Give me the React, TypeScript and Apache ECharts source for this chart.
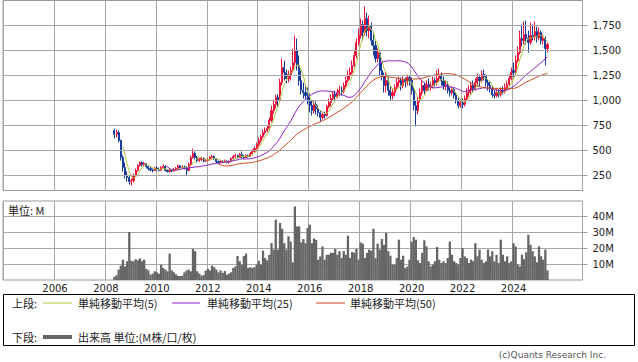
import React, { useEffect, useRef } from "react";
import * as echarts from "echarts";

const AXIS_START_YEAR = 2004;
const AXIS_MONTH_COUNT = 273; // Jan 2004 – Sep 2026
const DATA_START_YEAR = 2008;
const DATA_START_MONTH = 5;

const PRICE_TICKS = [250, 500, 750, 1000, 1250, 1500, 1750];
const VOLUME_TICKS = [10, 20, 30, 40];
const MA_PERIODS = [5, 25, 50];
const MA_NAMES = ["単純移動平均(5)", "単純移動平均(25)", "単純移動平均(50)"];
const MA_COLORS = ["#b4c83c", "#8c1ec8", "#d2461e"];
const UP_COLOR = "#f0143c";
const DOWN_COLOR = "#183c9c";
const VOLUME_COLOR = "#666666";

// monthly [open, close, low, high] from 2008/05
const ohlc: number[][] = [
  [700, 660, 620, 720], [660, 680, 630, 710], [680, 600, 580, 700], [600, 430, 400, 610],
  [430, 330, 290, 450], [330, 250, 220, 380], [250, 230, 190, 290], [230, 190, 160, 250],
  // 2009
  [190, 200, 150, 220], [200, 250, 180, 270], [250, 300, 240, 320], [300, 350, 290, 360],
  [350, 380, 340, 390], [380, 360, 340, 390], [360, 370, 335, 385], [370, 340, 320, 375],
  [340, 320, 300, 350], [320, 305, 290, 340], [305, 300, 280, 320], [300, 325, 295, 335],
  // 2010
  [325, 310, 300, 345], [310, 300, 290, 330], [300, 330, 295, 345], [330, 340, 320, 360],
  [340, 300, 290, 350], [300, 290, 280, 315], [290, 305, 280, 320], [305, 295, 285, 315],
  [295, 310, 290, 325], [310, 320, 300, 335], [320, 345, 310, 360], [345, 330, 320, 355],
  // 2011
  [330, 335, 320, 350], [335, 320, 310, 350], [320, 300, 245, 340], [300, 360, 295, 380],
  [360, 430, 350, 450], [430, 470, 420, 520], [470, 430, 410, 490], [430, 400, 380, 445],
  [400, 410, 385, 430], [410, 420, 395, 440], [420, 395, 380, 430], [395, 400, 385, 415],
  // 2012
  [400, 410, 390, 425], [410, 430, 400, 445], [430, 440, 420, 460], [440, 420, 405, 450],
  [420, 390, 375, 425], [390, 380, 370, 400], [380, 390, 370, 405], [390, 385, 375, 400],
  [385, 395, 375, 410], [395, 380, 370, 400], [380, 390, 370, 400], [390, 420, 385, 430],
  // 2013
  [420, 440, 415, 455], [440, 450, 425, 465], [450, 430, 420, 460], [430, 460, 425, 475],
  [460, 440, 425, 490], [440, 430, 415, 455], [430, 450, 425, 460], [450, 440, 430, 460],
  [440, 470, 435, 485], [470, 490, 460, 510], [490, 520, 480, 540], [520, 560, 510, 580],
  // 2014
  [560, 600, 540, 630], [600, 640, 580, 660], [640, 680, 620, 710], [680, 700, 660, 730],
  [700, 720, 680, 750], [720, 800, 700, 830], [800, 900, 780, 950], [900, 960, 870, 1010],
  [960, 1030, 920, 1060], [1030, 1000, 930, 1060], [1000, 1180, 990, 1220], [1180, 1330, 1150, 1420],
  // 2015
  [1330, 1280, 1200, 1400], [1280, 1220, 1170, 1310], [1220, 1260, 1180, 1300], [1260, 1300, 1200, 1340],
  [1300, 1380, 1280, 1520], [1380, 1500, 1350, 1650], [1500, 1350, 1300, 1620], [1350, 1200, 1150, 1450],
  [1200, 1100, 1060, 1300], [1100, 1080, 1020, 1180], [1080, 1050, 1010, 1140], [1050, 1000, 960, 1130],
  // 2016
  [1000, 950, 880, 1070], [950, 900, 850, 1000], [900, 960, 870, 1000], [960, 920, 860, 990],
  [920, 880, 840, 950], [880, 830, 785, 900], [830, 860, 810, 880], [860, 850, 820, 890],
  [850, 940, 840, 960], [940, 980, 920, 1020], [980, 1020, 940, 1060], [1020, 1060, 1000, 1090],
  // 2017
  [1060, 1040, 1010, 1100], [1040, 1080, 1020, 1120], [1080, 1100, 1040, 1150], [1100, 1090, 1050, 1140],
  [1090, 1150, 1070, 1180], [1150, 1200, 1130, 1240], [1200, 1250, 1180, 1300], [1250, 1280, 1210, 1330],
  [1280, 1350, 1260, 1400], [1350, 1450, 1330, 1500], [1450, 1580, 1420, 1620], [1580, 1650, 1550, 1720],
  // 2018
  [1650, 1760, 1620, 1820], [1760, 1680, 1600, 1800], [1680, 1820, 1650, 1940], [1820, 1700, 1640, 1880],
  [1700, 1750, 1620, 1850], [1750, 1600, 1550, 1780], [1600, 1550, 1450, 1680], [1550, 1420, 1380, 1600],
  [1420, 1480, 1380, 1520], [1480, 1300, 1250, 1500], [1300, 1250, 1200, 1380], [1250, 1150, 1080, 1280],
  // 2019
  [1150, 1200, 1080, 1280], [1200, 1100, 1050, 1230], [1100, 1050, 1000, 1140], [1050, 1080, 1010, 1120],
  [1080, 1130, 1040, 1160], [1130, 1180, 1100, 1220], [1180, 1200, 1140, 1240], [1200, 1150, 1100, 1230],
  [1150, 1200, 1120, 1240], [1200, 1180, 1130, 1230], [1180, 1230, 1150, 1260], [1230, 1200, 1150, 1250],
  // 2020
  [1200, 1100, 1060, 1230], [1100, 950, 900, 1130], [950, 900, 740, 1000], [900, 1000, 860, 1040],
  [1000, 1080, 980, 1120], [1080, 1150, 1050, 1200], [1150, 1100, 1060, 1180], [1100, 1160, 1090, 1200],
  [1160, 1130, 1100, 1220], [1130, 1150, 1100, 1190], [1150, 1200, 1120, 1240], [1200, 1180, 1140, 1230],
  // 2021
  [1180, 1220, 1150, 1300], [1220, 1250, 1180, 1320], [1250, 1200, 1150, 1280], [1200, 1150, 1110, 1240],
  [1150, 1160, 1100, 1200], [1160, 1100, 1070, 1190], [1100, 1080, 1040, 1130], [1080, 1110, 1050, 1140],
  [1110, 1050, 1020, 1130], [1050, 1000, 970, 1080], [1000, 950, 920, 1030], [950, 980, 930, 1010],
  // 2022
  [980, 960, 920, 1020], [960, 1020, 940, 1050], [1020, 1080, 1000, 1120], [1080, 1100, 1040, 1150],
  [1100, 1150, 1060, 1180], [1150, 1120, 1080, 1200], [1120, 1180, 1100, 1220], [1180, 1230, 1150, 1270],
  [1230, 1200, 1140, 1260], [1200, 1260, 1180, 1300], [1260, 1240, 1200, 1310], [1240, 1180, 1140, 1260],
  // 2023
  [1180, 1150, 1100, 1210], [1150, 1120, 1080, 1190], [1120, 1060, 1030, 1150], [1060, 1050, 1020, 1100],
  [1050, 1080, 1030, 1120], [1080, 1060, 1030, 1110], [1060, 1100, 1040, 1130], [1100, 1090, 1060, 1140],
  [1090, 1130, 1070, 1170], [1130, 1160, 1110, 1200], [1160, 1220, 1140, 1260], [1220, 1280, 1200, 1330],
  // 2024
  [1300, 1280, 1230, 1380], [1280, 1400, 1260, 1450], [1400, 1480, 1380, 1540], [1480, 1620, 1460, 1700],
  [1620, 1600, 1540, 1760], [1600, 1660, 1560, 1790], [1660, 1620, 1560, 1800], [1620, 1580, 1480, 1700],
  [1580, 1650, 1560, 1780], [1650, 1640, 1600, 1760], [1640, 1690, 1600, 1790], [1690, 1630, 1580, 1740],
  // 2025
  [1630, 1680, 1600, 1730], [1680, 1600, 1560, 1700], [1600, 1620, 1560, 1660], [1620, 1520, 1350, 1640],
  [1520, 1560, 1480, 1580],
];

// monthly volume, millions, from 2008/05
const volumeM: number[] = [
  2, 3, 6.5, 9, 12.7, 8.5, 11.7, 30,
  12, 11.7, 13, 12.3, 13.5, 11.7, 12.7, 7, 6, 3.3, 4, 5.4,
  4.8, 4, 9.6, 7.5, 6.5, 5.4, 16.5, 6, 4.8, 3.5, 2.5, 2.5,
  2.7, 4.8, 6, 6.5, 5.4, 19.4, 18, 5.4, 4, 2.7, 3, 5.8,
  7, 6, 9, 8, 6.5, 4.8, 6, 4.4, 5.6, 3.3, 4, 4.8,
  7.5, 8.5, 15, 11.7, 9.6, 15, 16.5, 7.5, 8, 7.5, 8, 9.6,
  12, 9.6, 18.3, 13.7, 12.3, 15.8, 23, 19, 37.7, 19, 35.6, 32,
  23, 19, 27.3, 24, 11, 46, 33.5, 33.5, 23.5, 25.6, 23, 32.5,
  34.6, 23, 26, 25, 12.7, 14.8, 21, 12.7, 15.8, 15.8, 17,
  17, 19.4, 15.8, 18, 13.7, 18, 15.8, 27.7, 13.7, 17.5, 17, 19.4,
  12.7, 23.5, 22.7, 13.7, 17, 19, 18.3, 32, 13.7, 22.7, 19, 25.6,
  22, 29.4, 18, 15.2, 9.6, 9.6, 13.7, 25.2, 12.7, 15.2, 7.5, 8.5,
  12.7, 24, 26.9, 25.2, 12.3, 10.6, 17, 24.8, 21, 11.7, 8.5, 9.6,
  11.7, 20.6, 12.7, 10.6, 11.7, 10.6, 13.7, 24, 15.8, 11.7, 10.6, 9.6,
  13.7, 20, 14.8, 13.7, 10.6, 12.7, 11.7, 23, 14.8, 19, 12.7, 10.6,
  11.7, 19, 14.8, 18, 11.7, 15.8, 10.6, 25.2, 15.8, 11.7, 14.8, 10.6,
  11.7, 23, 21, 9.6, 8.5, 15.8, 13, 17.3, 28.3, 22, 18, 14.8,
  11, 21, 14.8, 12.7, 19, 6,
];

const categories: string[] = [];
for (let m = 0; m < AXIS_MONTH_COUNT; m++) {
  const y = AXIS_START_YEAR + Math.floor(m / 12);
  const mo = (m % 12) + 1;
  categories.push(`${y}/${String(mo).padStart(2, "0")}`);
}
const offset = (DATA_START_YEAR - AXIS_START_YEAR) * 12 + (DATA_START_MONTH - 1);

const candleData = ohlc.map((r, i) => [offset + i, r[0], r[1], r[2], r[3]]);
const volumeData = volumeM.slice(0, ohlc.length).map((v, i) => [offset + i, v]);

function movingAverage(n: number) {
  const out: number[][] = [];
  for (let i = n - 1; i < ohlc.length; i++) {
    let s = 0;
    for (let k = i - n + 1; k <= i; k++) s += ohlc[k][1];
    out.push([offset + i, Math.round((s / n) * 10) / 10]);
  }
  return out;
}

const isGridMonth = (i: number) => i % 24 === 0 && i < 260;
const isLabelMonth = (i: number) => i % 24 === 0 && i > 0 && i < 260;

const GRID_COLOR = "#a8a8a8";
const BORDER_COLOR = "#999999";
const AXIS_FONT = "DejaVu Sans";
const JP_FONT = '"Noto Sans CJK JP", "Noto Sans", sans-serif';

export default function App() {
  const ref = useRef<HTMLDivElement>(null);

  useEffect(() => {
    document.body.style.margin = "0";
    if (!ref.current) return;
    const chart = echarts.init(ref.current, undefined, { renderer: "svg" });

    const legendY1 = 303;
    const legendY2 = 337;
    const legendText = (text: string, x: number, y: number) => ({
      type: "text",
      x,
      y,
      style: { text, fill: "#222", font: `11px ${JP_FONT}`, verticalAlign: "middle" },
    });
    const legendLine = (x1: number, x2: number, y: number, color: string, w: number) => ({
      type: "line",
      shape: { x1, y1: y, x2, y2: y },
      style: { stroke: color, lineWidth: w },
    });

    const option: any = {
      animation: false,
      backgroundColor: "#ffffff",
      textStyle: { fontFamily: AXIS_FONT },
      tooltip: { show: false },
      grid: [
        { left: 3, top: 0.5, width: 579.5, height: 190, show: true, borderColor: BORDER_COLOR, borderWidth: 1, backgroundColor: "transparent" },
        { left: 3, top: 201, width: 579.5, height: 79, show: true, borderColor: BORDER_COLOR, borderWidth: 1, backgroundColor: "transparent" },
      ],
      xAxis: [
        {
          type: "category",
          gridIndex: 0,
          data: categories,
          boundaryGap: true,
          axisLine: { show: false },
          axisTick: { show: false },
          axisLabel: { show: false },
          splitLine: { show: true, interval: (i: number) => isGridMonth(i), lineStyle: { color: GRID_COLOR, width: 1 } },
        },
        {
          type: "category",
          gridIndex: 1,
          data: categories,
          boundaryGap: true,
          axisLine: { show: false },
          axisTick: { show: false },
          axisLabel: {
            show: true,
            interval: (i: number) => isLabelMonth(i),
            formatter: (v: string) => v.slice(0, 4),
            margin: 3,
            color: "#222",
            fontSize: 10,
            fontFamily: AXIS_FONT,
          },
          splitLine: { show: true, interval: (i: number) => isGridMonth(i), lineStyle: { color: GRID_COLOR, width: 1 } },
        },
      ],
      yAxis: [
        {
          type: "value",
          gridIndex: 0,
          position: "right",
          min: 100,
          max: 2000,
          axisLine: { show: false },
          splitLine: { show: false },
          axisTick: { show: true, inside: false, length: 5, customValues: PRICE_TICKS, lineStyle: { color: BORDER_COLOR } },
          axisLabel: {
            customValues: PRICE_TICKS,
            formatter: (v: number) => Number(v).toLocaleString("en-US"),
            margin: 10,
            color: "#222",
            fontSize: 10,
            fontFamily: AXIS_FONT,
          },
        },
        {
          type: "value",
          gridIndex: 1,
          position: "right",
          min: 0,
          max: 49.375,
          interval: 10,
          axisLine: { show: false },
          splitLine: { show: true, lineStyle: { color: GRID_COLOR, width: 1 } },
          axisTick: { show: true, inside: false, length: 5, customValues: VOLUME_TICKS, lineStyle: { color: BORDER_COLOR } },
          axisLabel: {
            customValues: VOLUME_TICKS,
            formatter: (v: number) => `${v}M`,
            margin: 10,
            color: "#222",
            fontSize: 10,
            fontFamily: AXIS_FONT,
          },
        },
      ],
      series: [
        {
          name: "grid",
          type: "line",
          xAxisIndex: 0,
          yAxisIndex: 0,
          data: [],
          z: 1,
          silent: true,
          markLine: {
            silent: true,
            symbol: ["none", "none"],
            label: { show: false },
            lineStyle: { color: GRID_COLOR, type: "solid", width: 1 },
            data: PRICE_TICKS.map((v) => ({ yAxis: v })),
          },
        },
        {
          name: "price",
          type: "candlestick",
          xAxisIndex: 0,
          yAxisIndex: 0,
          z: 3,
          barWidth: 1.6,
          encode: { x: 0, y: [1, 2, 3, 4] },
          data: candleData,
          itemStyle: {
            color: UP_COLOR,
            color0: DOWN_COLOR,
            borderColor: UP_COLOR,
            borderColor0: DOWN_COLOR,
            borderWidth: 1,
          },
        },
        ...MA_PERIODS.map((n, k) => ({
          name: MA_NAMES[k],
          type: "line",
          xAxisIndex: 0,
          yAxisIndex: 0,
          z: 4,
          data: movingAverage(n),
          showSymbol: false,
          symbol: "none",
          smooth: false,
          lineStyle: { color: MA_COLORS[k], width: 1 },
        })),
        {
          name: "volume",
          type: "bar",
          xAxisIndex: 1,
          yAxisIndex: 1,
          z: 3,
          barWidth: 2.3,
          data: volumeData,
          itemStyle: { color: VOLUME_COLOR },
        },
      ],
      graphic: [
        {
          type: "text",
          x: 8,
          y: 210,
          style: { text: "単位: M", fill: "#222", font: `11px ${JP_FONT}`, verticalAlign: "middle" },
          z: 10,
        },
        {
          type: "rect",
          shape: { x: 3.5, y: 294.5, width: 631, height: 51 },
          style: { fill: "#ffffff", stroke: "#000000", lineWidth: 1 },
        },
        legendText("上段:", 12, legendY1),
        legendLine(43, 72, legendY1, MA_COLORS[0], 1),
        legendText(MA_NAMES[0], 78, legendY1),
        legendLine(172, 200, legendY1, MA_COLORS[1], 1),
        legendText(MA_NAMES[1], 207, legendY1),
        legendLine(316, 345, legendY1, MA_COLORS[2], 1),
        legendText(MA_NAMES[2], 350, legendY1),
        legendText("下段:", 12, legendY2),
        legendLine(43, 72, legendY2, VOLUME_COLOR, 4),
        legendText("出来高 単位:(M株/口/枚)", 78, legendY2),
        {
          type: "text",
          x: 606,
          y: 355,
          style: {
            text: "(c)Quants Research Inc.",
            fill: "#555",
            font: `9px ${AXIS_FONT}`,
            align: "right",
            verticalAlign: "middle",
          },
        },
      ],
    };

    chart.setOption(option);
    return () => chart.dispose();
  }, []);

  return (
    <div style={{ position: "fixed", left: 0, top: 0, width: 638, height: 362, background: "#fff" }}>
      <div ref={ref} style={{ width: 638, height: 362 }} />
    </div>
  );
}
